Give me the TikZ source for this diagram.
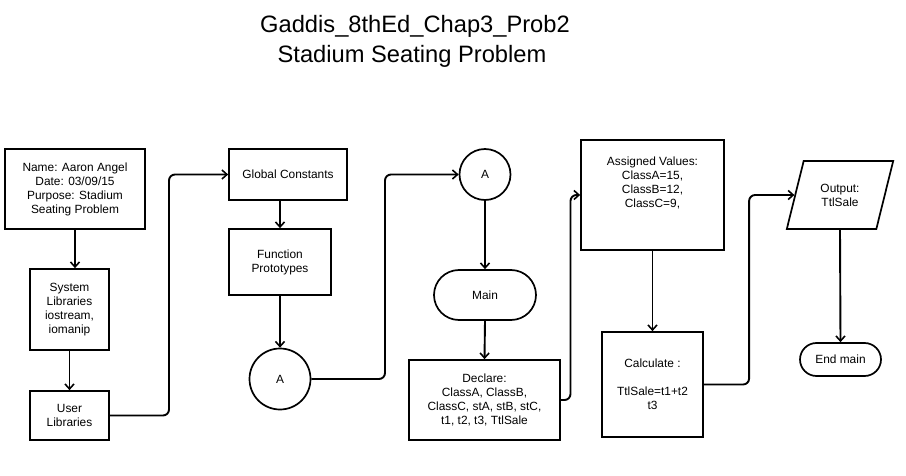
\documentclass[tikz,border=0pt]{standalone}
\usepackage{fontspec}
\setmainfont{Liberation Sans}
\usetikzlibrary{arrows.meta,shapes.geometric,shapes.misc,calc}
\newcommand\bodyfont{\fontsize{11.9}{14}\selectfont}
\newcommand\titlefont{\fontsize{23.7}{30}\selectfont}
\begin{document}
\begin{tikzpicture}[x=1pt,y=-1pt,
  box/.style={draw,line width=1.7pt,inner sep=0pt,align=center,font=\bodyfont},
  txt/.style={inner sep=0pt,align=center,font=\bodyfont},
  conn/.style={line width=1.9pt,rounded corners=6pt,-{Straight Barb[length=5pt,width=9pt,line width=1.6pt]}},
  ttl/.style={inner sep=0pt,font=\titlefont,anchor=base}]
\useasboundingbox (0,0) rectangle (906,476);
\fill[white] (0,0) rectangle (906,476);

% title
\node[ttl] (t1) at (415,33) {Gaddis\_8thEd\_Chap3\_Prob2};
\node[ttl] (t2) at (412,63) {Stadium Seating Problem};

% column 1
\node[box,minimum width=140pt,minimum height=80pt] (name) at (75,189)
  {Name: Aaron Angel\\Date: 03/09/15\\Purpose: Stadium\\Seating Problem};
\node[box,minimum width=79pt,minimum height=81pt] (syslib) at (69.5,309.5)
  {System\\Libraries\\iostream,\\iomanip};
\node[box,minimum width=79pt,minimum height=49pt] (user) at (69.5,415.5)
  {User\\Libraries};

% column 2
\node[box,minimum width=118pt,minimum height=51pt] (gc) at (288,174.5) {Global Constants};
\node[box,minimum width=102pt,minimum height=66pt] (fp) at (280,262) {Function\\Prototypes};
\node[box,circle,minimum size=61pt] (ca) at (280,379) {A};

% column 3
\node[box,circle,minimum size=51pt] (cb) at (485,174.5) {A};
\node[box,rounded rectangle,minimum width=102pt,minimum height=50pt] (main) at (485,295) {Main};
\node[box,minimum width=151pt,minimum height=80pt] (decl) at (484.5,400)
  {Declare:\\ClassA, ClassB,\\ClassC, stA, stB, stC,\\t1, t2, t3, TtlSale};

% column 4
\node[box,minimum width=143pt,minimum height=110pt] (assign) at (652.5,195) {};
\node[txt] (assigntxt) at (652.5,183) {Assigned Values:\\ClassA=15,\\ClassB=12,\\ClassC=9,};
\node[box,minimum width=101pt,minimum height=105pt] (calc) at (652.5,384.5)
  {Calculate :\\[14pt]TtlSale=t1+t2\\t3};

% column 5
\node[box,trapezium,trapezium left angle=68,trapezium right angle=112,
  trapezium stretches=true,minimum width=107pt,minimum height=68pt] (out) at (840,195)
  {Output:\\TtlSale};
\node[box,rounded rectangle,minimum width=81pt,minimum height=33pt] (endm) at (840.5,359.5) {End main};

% connectors
\draw[conn] (name.south) -- (name.south |- syslib.north);
\draw[conn] (syslib.south) -- (syslib.south |- user.north);
\draw[conn] (user.east) -- ($(user.east)!0.5!(gc.west |- user.east)$) |- (gc.west);
\draw[conn] (fp.north |- gc.south) -- (fp.north);
\draw[conn] (fp.south) -- (ca.north);
\draw[conn] (ca.east) -- ($(ca.east)!0.5!(cb.west |- ca.east)$) |- (cb.west);
\draw[conn] (cb.south) -- (main.north);
\draw[conn] (main.south) -- (decl.north);
\draw[conn] (decl.east) -- ($(decl.east)!0.5!(assign.west |- decl.east)$) |- (assign.west);
\draw[conn] (assign.south) -- (calc.north);
\draw[conn] (calc.east) -- ($(calc.east)!0.5!(out.west |- calc.east)$) |- (out.west);
\draw[conn] (out.south) -- (endm.north);
\end{tikzpicture}
\end{document}
